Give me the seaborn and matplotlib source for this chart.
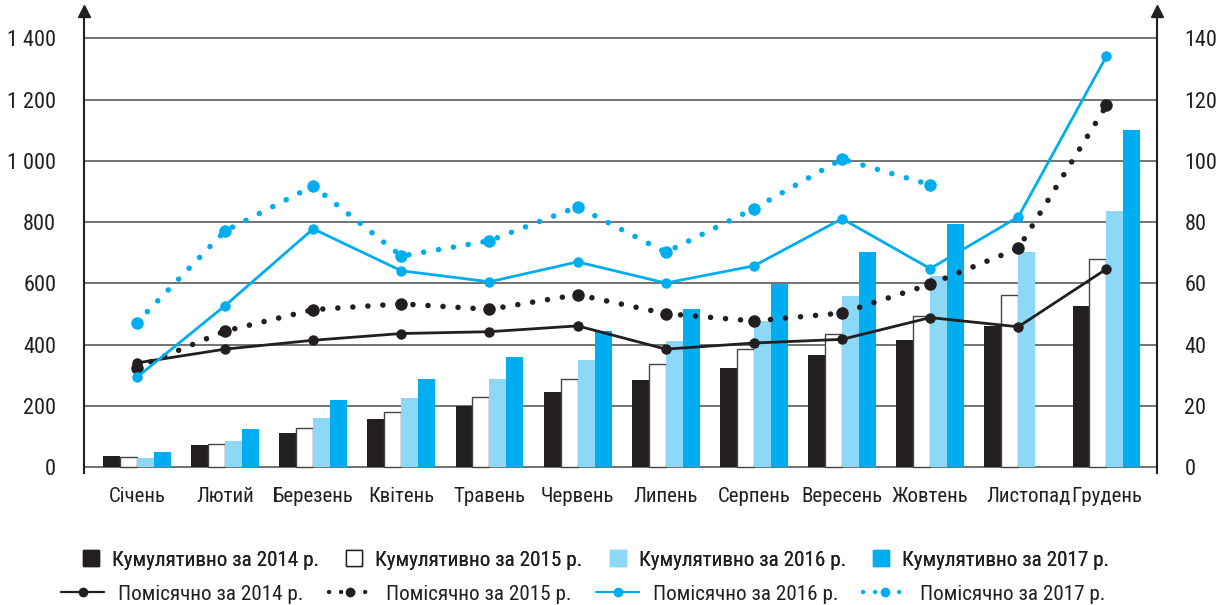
import numpy as np
import pandas as pd
import matplotlib.pyplot as plt
import matplotlib.transforms as mtransforms
import seaborn as sns
from matplotlib.patches import Patch
from matplotlib.lines import Line2D

months = ["Січень", "Лютий", "Березень", "Квітень", "Травень", "Червень",
          "Липень", "Серпень", "Вересень", "Жовтень", "Листопад", "Грудень"]
years = ["2014", "2015", "2016", "2017"]

# cumulative values (left axis)
cum_2014 = [35, 72, 112, 156, 200, 245, 283, 325, 365, 416, 460, 525]
cum_2015 = [32, 76, 126, 179, 229, 286, 336, 384, 434, 492, 562, 680]
cum_2016 = [30, 84, 161, 224, 286, 351, 412, 477, 558, 623, 703, 837]
cum_2017 = [48, 125, 218, 286, 360, 444, 515, 599, 702, 793, 0, 1100]

# monthly values (right axis)
mon_2014 = [34.0, 38.5, 41.4, 43.6, 44.2, 46.1, 38.5, 40.5, 41.7, 48.8, 45.8, 64.7]
mon_2015 = [32.5, 44.4, 51.4, 53.3, 51.5, 56.3, 50.1, 47.7, 50.3, 59.7, 71.4, 118.1]
mon_2016 = [29.3, 52.7, 77.8, 64.1, 60.5, 67.0, 60.1, 65.7, 81.1, 64.8, 81.7, 134.2]
mon_2017 = [47.2, 77.1, 91.8, 68.9, 73.9, 85.0, 70.1, 84.4, 100.6, 92.2, np.nan, np.nan]

left_ticks = [0, 200, 400, 600, 800, 1000, 1200, 1400]
right_ticks = [0, 20, 40, 60, 80, 100, 120, 140]

BLACK = "#231f20"
LIGHT = "#8dd7f7"
BLUE = "#00aeef"
bar_colors = [BLACK, "white", LIGHT, BLUE]
FS = 16
XFS = 15
LEG_FS = 15.2

sns.set_style("white")
plt.rcParams["font.family"] = ["Roboto Condensed", "DejaVu Sans"]
plt.rcParams["text.color"] = BLACK

df = pd.DataFrame({
    "month": months * 4,
    "year": np.repeat(years, 12),
    "value": cum_2014 + cum_2015 + cum_2016 + cum_2017,
})

fig = plt.figure(figsize=(12.19, 6.05), dpi=100)
ax = fig.add_axes([0.0689, 0.218, 0.880, 0.764])

# cumulative bars
sns.barplot(data=df, x="month", y="value", hue="year", order=months,
            hue_order=years, palette=bar_colors, width=0.77, saturation=1,
            linewidth=0, legend=False, ax=ax)
for bar in ax.containers[1]:
    bar.set_edgecolor("#444444")
    bar.set_linewidth(1.0)

ax.set_ylim(-20, 1490)
ax.set_yticks(left_ticks)
ax.set_yticklabels([f"{v:,}".replace(",", " ") for v in left_ticks])
ax.set_axisbelow(True)
ax.yaxis.grid(True, color="#4d4d4d", linewidth=1.1)
ax.xaxis.grid(False)
ax.set_xlabel("")
ax.set_ylabel("")

# monthly lines on the right axis
ax2 = ax.twinx()
xpos = np.arange(len(months))
dotted = (0, (0.01, 2.7))
line_specs = [
    (mon_2014, BLACK, "-", 2.0, 7.5),
    (mon_2015, BLACK, dotted, 4.0, 9.0),
    (mon_2016, BLUE, "-", 2.0, 7.5),
    (mon_2017, BLUE, dotted, 4.0, 9.0),
]
for vals, col, ls, lw, ms in line_specs:
    sns.lineplot(x=xpos, y=vals, ax=ax2, color=col, linestyle=ls, linewidth=lw,
                 marker="o", markersize=ms, markeredgecolor=col,
                 markeredgewidth=0, dash_capstyle="round")

ax2.set_ylim(-2, 149)
ax2.set_yticks(right_ticks)
ax2.set_ylabel("")
ax.set_xlim(-0.6, 11.57)
ax.set_xticks(xpos)
ax.set_xticklabels(months)

# axes with arrows
for a in (ax, ax2):
    for s in a.spines.values():
        s.set_visible(False)
ax.spines["left"].set_visible(True)
ax.spines["left"].set_color(BLACK)
ax.spines["left"].set_linewidth(1.5)
ax2.spines["right"].set_visible(True)
ax2.spines["right"].set_color(BLACK)
ax2.spines["right"].set_linewidth(1.5)
ax.plot(0, 1, marker="^", color=BLACK, markersize=9, transform=ax.transAxes, clip_on=False)
ax2.plot(1, 1, marker="^", color=BLACK, markersize=9, transform=ax2.transAxes, clip_on=False)

ax.tick_params(axis="y", length=0, pad=20, labelsize=FS, labelcolor=BLACK)
ax2.tick_params(axis="y", length=0, pad=20, labelsize=FS, labelcolor=BLACK)
ax.tick_params(axis="x", length=0, pad=10, labelsize=XFS, labelcolor=BLACK)

# "Листопад" sits a little to the right in the original
lab = ax.get_xticklabels()[10]
lab.set_transform(lab.get_transform() + mtransforms.ScaledTranslation(0.1, 0, fig.dpi_scale_trans))

# legends
bar_handles = [Patch(facecolor=c, edgecolor=(BLACK if c == "white" else c), linewidth=1)
               for c in bar_colors]
bar_labels = [f"Кумулятивно за {y} р." for y in years]
line_handles = [Line2D([], [], color=col, linestyle=ls, linewidth=lw * 0.8, marker="o",
                       markersize=7, markeredgewidth=0, dash_capstyle="round")
                for _, col, ls, lw, _ in line_specs]
line_labels = [f"Помісячно за {y} р." for y in years]

leg1 = fig.legend(bar_handles, bar_labels, loc="center", bbox_to_anchor=(0.489, 0.0744),
                  ncol=4, frameon=False, prop={"size": LEG_FS, "weight": "normal"},
                  handlelength=0.76, handleheight=0.76, columnspacing=1.28,
                  handletextpad=0.62)
leg2 = fig.legend(line_handles, line_labels, loc="center", bbox_to_anchor=(0.4787, 0.018),
                  ncol=4, frameon=False, prop={"size": LEG_FS, "weight": "normal"},
                  handlelength=2.04, columnspacing=1.18, handletextpad=0.66)
fig.add_artist(leg1)

fig.savefig("out.png", dpi=100)
